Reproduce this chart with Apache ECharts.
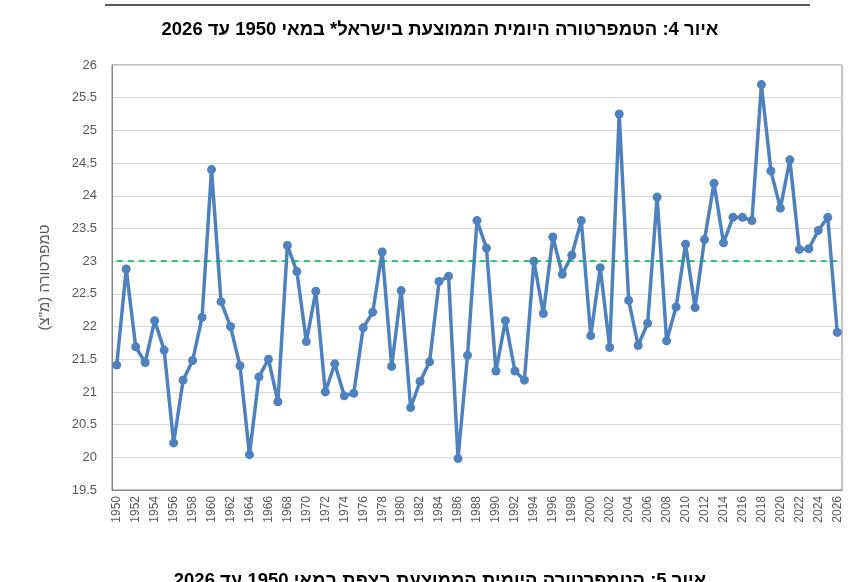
<!DOCTYPE html>
<html>
<head>
<meta charset="utf-8">
<script src="https://cdn.jsdelivr.net/npm/echarts@6/dist/echarts.min.js"></script>
<style>
html, body { margin: 0; padding: 0; background: #fff; }
#chartDiv { width: 866px; height: 582px; }
</style>
</head>
<body>
<div id="chartDiv"></div>
<script>
var years = [];
for (var y = 1950; y <= 2026; y++) { years.push(String(y)); }

var tempValues = [
  21.41, 22.88, 21.69, 21.45, 22.09, 21.64, 20.22, 21.18, 21.48, 22.14,
  24.40, 22.38, 22.00, 21.40, 20.04, 21.23, 21.50, 20.85, 23.24, 22.84,
  21.77, 22.54, 21.00, 21.43, 20.94, 20.98, 21.98, 22.22, 23.14, 21.39,
  22.55, 20.76, 21.16, 21.46, 22.69, 22.77, 19.98, 21.56, 23.62, 23.20,
  21.32, 22.09, 21.32, 21.18, 23.00, 22.20, 23.37, 22.80, 23.09, 23.62,
  21.86, 22.90, 21.68, 25.25, 22.40, 21.71, 22.05, 23.98, 21.78, 22.30,
  23.26, 22.29, 23.33, 24.19, 23.28, 23.67, 23.67, 23.62, 25.70, 24.38,
  23.81, 24.55, 23.18, 23.19, 23.47, 23.67, 21.91
];

var refLevel = 23;
var titleText = 'איור 4: הטמפרטורה היומית הממוצעת בישראל* במאי 1950 עד 2026';
var nextTitleText = 'איור 5: הטמפרטורה היומית הממוצעת בצפת במאי 1950 עד 2026';
var yAxisName = 'טמפרטורה (מ"צ)';

var myChart = echarts.init(document.getElementById('chartDiv'));

var option = {
  animation: false,
  graphic: [
    {
      type: 'line',
      shape: { x1: 105, y1: 5, x2: 810, y2: 5 },
      style: { stroke: '#595959', lineWidth: 2 }
    },
    {
      type: 'text',
      x: 440, y: 30,
      style: {
        text: titleText,
        font: 'bold 18.5px "Liberation Sans", Arial, sans-serif',
        fill: '#000',
        textAlign: 'center',
        textVerticalAlign: 'middle'
      }
    },
    {
      type: 'text',
      x: 440, y: 571,
      style: {
        text: nextTitleText,
        font: 'bold 18.5px "Liberation Sans", Arial, sans-serif',
        fill: '#000',
        textAlign: 'center',
        textVerticalAlign: 'top'
      }
    }
  ],
  grid: {
    left: 112,
    right: 24,
    top: 65,
    bottom: 92,
    show: true,
    borderColor: '#868686',
    borderWidth: 1
  },
  xAxis: {
    type: 'category',
    data: years,
    boundaryGap: true,
    axisLine: { lineStyle: { color: '#868686' } },
    axisTick: { show: false },
    axisLabel: {
      rotate: 90,
      interval: 1,
      color: '#595959',
      fontSize: 12,
      fontFamily: '"Liberation Sans", Arial, sans-serif',
      margin: 6
    }
  },
  yAxis: {
    type: 'value',
    min: 19.5,
    max: 26,
    interval: 0.5,
    name: yAxisName,
    nameLocation: 'middle',
    nameRotate: 90,
    nameGap: 60,
    nameTextStyle: {
      color: '#595959',
      fontSize: 15,
      fontFamily: '"Liberation Sans", Arial, sans-serif'
    },
    axisLine: { show: true, lineStyle: { color: '#868686' } },
    axisTick: { show: false },
    axisLabel: {
      color: '#595959',
      fontSize: 13,
      fontFamily: '"Liberation Sans", Arial, sans-serif',
      margin: 15
    },
    splitLine: { lineStyle: { color: '#d9d9d9', width: 1 } }
  },
  series: [
    {
      type: 'line',
      data: tempValues,
      symbol: 'circle',
      symbolSize: 9,
      showAllSymbol: true,
      lineStyle: { color: '#4f81bd', width: 3.5 },
      itemStyle: { color: '#4f81bd' },
      markLine: {
        silent: true,
        symbol: 'none',
        label: { show: false },
        lineStyle: { color: '#00b050', type: [6, 5], width: 1.5 },
        data: [[
          { coord: [years[0], refLevel] },
          { coord: [years[years.length - 1], refLevel] }
        ]]
      }
    }
  ]
};

myChart.setOption(option);
window.addEventListener('resize', function () {
  myChart.resize();
});
</script>
</body>
</html>
